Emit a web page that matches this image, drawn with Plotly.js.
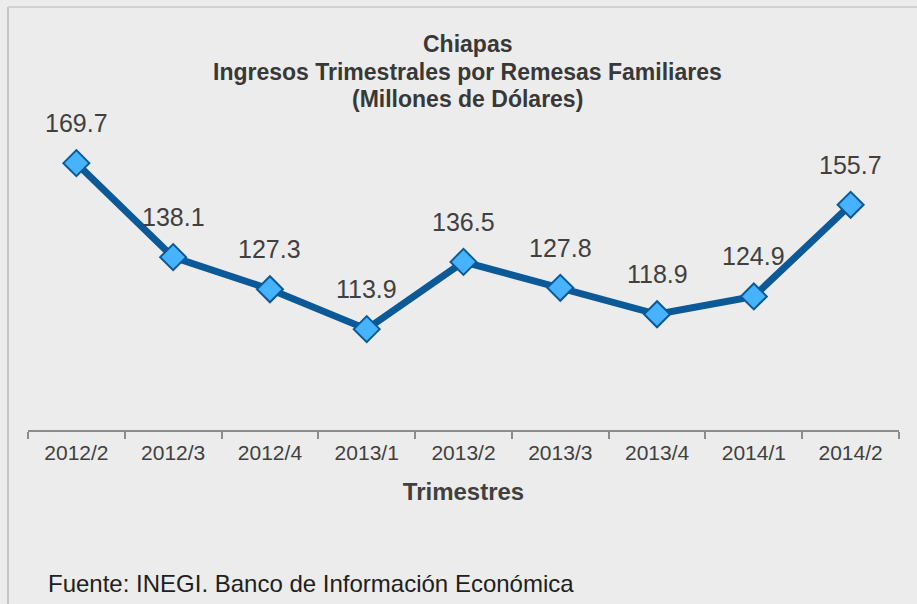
<!DOCTYPE html>
<html>
<head>
<meta charset="utf-8">
<script src="https://cdn.plot.ly/plotly-3.0.1.min.js"></script>
<style>
  html, body { margin: 0; padding: 0; background: #ececec; }
  #chart { width: 917px; height: 604px; }
</style>
</head>
<body>
<div id="chart"></div>
<script>
const quarters = ["2012/2", "2012/3", "2012/4", "2013/1", "2013/2", "2013/3", "2013/4", "2014/1", "2014/2"];
const remesas = [169.7, 138.1, 127.3, 113.9, 136.5, 127.8, 118.9, 124.9, 155.7];
const titleLines = ["Chiapas", "Ingresos Trimestrales por Remesas Familiares", "(Millones de Dólares)"];

const FONT = "Liberation Sans, Arial, sans-serif";
const TEXT_COLOR = "#404040";

// plot area in pixels: top 73, bottom 430, left 28, width 871
const PLOT_TOP = 73, PLOT_BOTTOM = 430, PLOT_LEFT = 28, PLOT_W = 871;
const paperY = (py) => (PLOT_BOTTOM - py) / (PLOT_BOTTOM - PLOT_TOP);
const paperX = (px) => (px - PLOT_LEFT) / PLOT_W;

// Value labels sit well above each diamond, like the original.
const valueLabels = quarters.map((q, i) => ({
  x: q,
  y: remesas[i],
  text: remesas[i].toFixed(1),
  showarrow: false,
  xanchor: "center",
  yanchor: "middle",
  yshift: 40,
  font: { family: FONT, size: 25, color: TEXT_COLOR },
}));

// Title drawn line by line so the spacing can follow the original.
const titleAnnots = titleLines.map((t, i) => ({
  xref: "paper",
  yref: "paper",
  x: paperX(468),
  y: paperY(44 + i * 27.5),
  xanchor: "center",
  yanchor: "middle",
  showarrow: false,
  text: "<b>" + t + "</b>",
  font: { family: FONT, size: 23, color: "#383838" },
}));

const trace = {
  x: quarters,
  y: remesas,
  type: "scatter",
  mode: "lines+markers",
  line: { color: "#0b5a97", width: 7 },
  marker: {
    symbol: "diamond",
    size: 20,
    color: "#47b2ff",
    line: { color: "#0b5a97", width: 2 },
  },
  hoverinfo: "skip",
};

const layout = {
  width: 917,
  height: 604,
  paper_bgcolor: "#ececec",
  plot_bgcolor: "#ececec",
  showlegend: false,
  margin: { l: PLOT_LEFT, r: 917 - PLOT_LEFT - PLOT_W, t: PLOT_TOP, b: 604 - PLOT_BOTTOM },
  xaxis: {
    type: "category",
    range: [-0.5, 8.5],
    showline: true,
    linecolor: "#8c8c8c",
    linewidth: 2,
    ticks: "outside",
    tickson: "boundaries",
    ticklen: 7,
    tickwidth: 2,
    tickcolor: "#8c8c8c",
    ticklabelstandoff: 3,
    showgrid: false,
    zeroline: false,
    tickfont: { family: FONT, size: 21, color: TEXT_COLOR },
    title: {
      text: "<b>Trimestres</b>",
      font: { family: FONT, size: 24, color: TEXT_COLOR },
      standoff: 20,
    },
    automargin: false,
  },
  yaxis: {
    range: [80, 200],
    visible: false,
    showgrid: false,
    zeroline: false,
  },
  annotations: titleAnnots.concat(valueLabels, [
    {
      xref: "paper",
      yref: "paper",
      x: paperX(46),
      y: paperY(583),
      xanchor: "left",
      yanchor: "middle",
      showarrow: false,
      text: "Fuente: INEGI. Banco de Información Económica",
      font: { family: FONT, size: 24, color: "#202020" },
    },
  ]),
  shapes: [
    // thin frame on the left and top edges
    { type: "line", xref: "paper", yref: "paper", x0: paperX(8), x1: paperX(8), y0: paperY(7), y1: -1, line: { color: "#c6c6c6", width: 2 } },
    { type: "line", xref: "paper", yref: "paper", x0: paperX(8), x1: 1.1, y0: paperY(7), y1: paperY(7), line: { color: "#d2d2d2", width: 2 } },
  ],
};

Plotly.newPlot("chart", [trace], layout, { staticPlot: true });
</script>
</body>
</html>
